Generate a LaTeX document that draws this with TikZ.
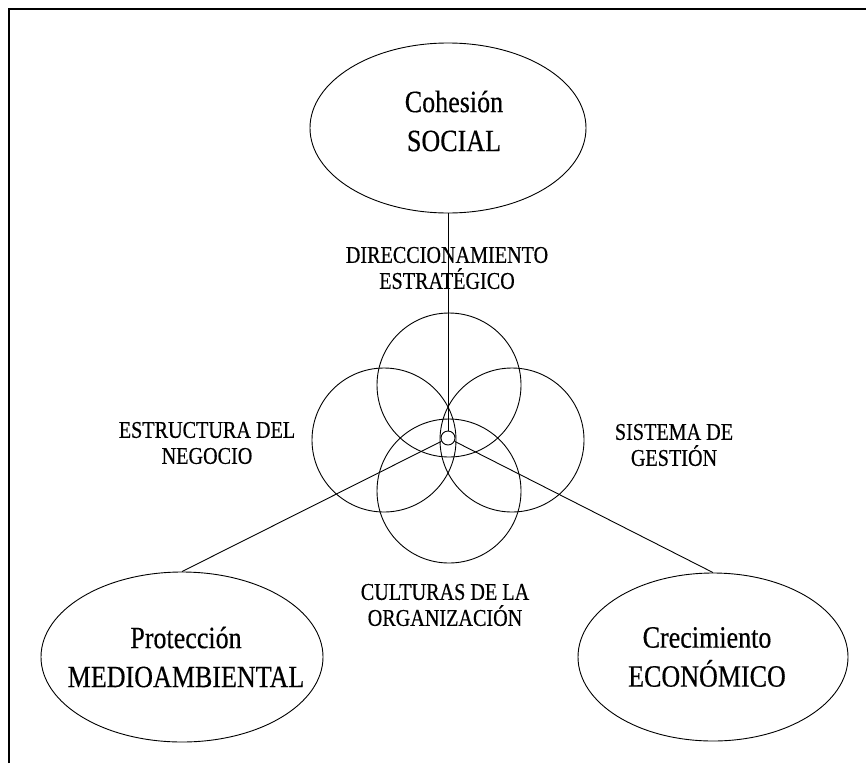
\documentclass[tikz,border=0pt]{standalone}
\usepackage{fontspec}
\setmainfont{Liberation Serif}[FakeStretch=0.84,FakeBold=0.4]
\usetikzlibrary{shapes.geometric}
\begin{document}
\begin{tikzpicture}[x=1pt,y=-1pt,
  bubble/.style={draw, ellipse, line width=0.9pt, inner sep=0pt},
  ring/.style={draw, circle, line width=0.9pt, minimum size=144pt, inner sep=0pt},
  hub/.style={draw, circle, line width=0.9pt, minimum size=14pt, inner sep=0pt},
  big/.style={font=\fontsize{31}{39}\selectfont, align=center, inner sep=0pt},
  small/.style={font=\fontsize{24}{26}\selectfont, align=center, inner sep=0pt},
  link/.style={line width=0.9pt}]
\useasboundingbox (0,0) rectangle (866,763);
\draw[line width=2.8pt] (9,763) -- (9,9) -- (866,9);
% outer ellipses
\node[bubble, minimum width=276pt, minimum height=170pt] (soc) at (448,128) {};
\node[bubble, minimum width=282pt, minimum height=170pt] (med) at (182,657) {};
\node[bubble, minimum width=270pt, minimum height=168pt] (eco) at (713,657) {};
\node[big] (soct) at (454,121) {Cohesión\\SOCIAL};
\node[big] (medt) at (186,657) {Protección\\MEDIOAMBIENTAL};
\node[big] (ecot) at (707,657) {Crecimiento\\ECONÓMICO};
% rings
\node[ring] (rtop) at (449,385) {};
\node[ring] (rleft) at (384,440) {};
\node[ring] (rright) at (512,440) {};
\node[ring] (rbot) at (449,491) {};
\node[hub] (c) at (448,438) {};
% labels
\node[small] (l1) at (447,268) {DIRECCIONAMIENTO\\ESTRATÉGICO};
\node[small] (l2) at (207,443) {ESTRUCTURA DEL\\NEGOCIO};
\node[small] (l3) at (674,445) {SISTEMA DE\\GESTIÓN};
\node[small] (l4) at (445,605) {CULTURAS DE LA\\ORGANIZACIÓN};
% connectors
\draw[link] (soc.south) -- (c.north);
\draw[link] (med.north) -- (c);
\draw[link] (eco.north) -- (c);
\end{tikzpicture}
\end{document}
